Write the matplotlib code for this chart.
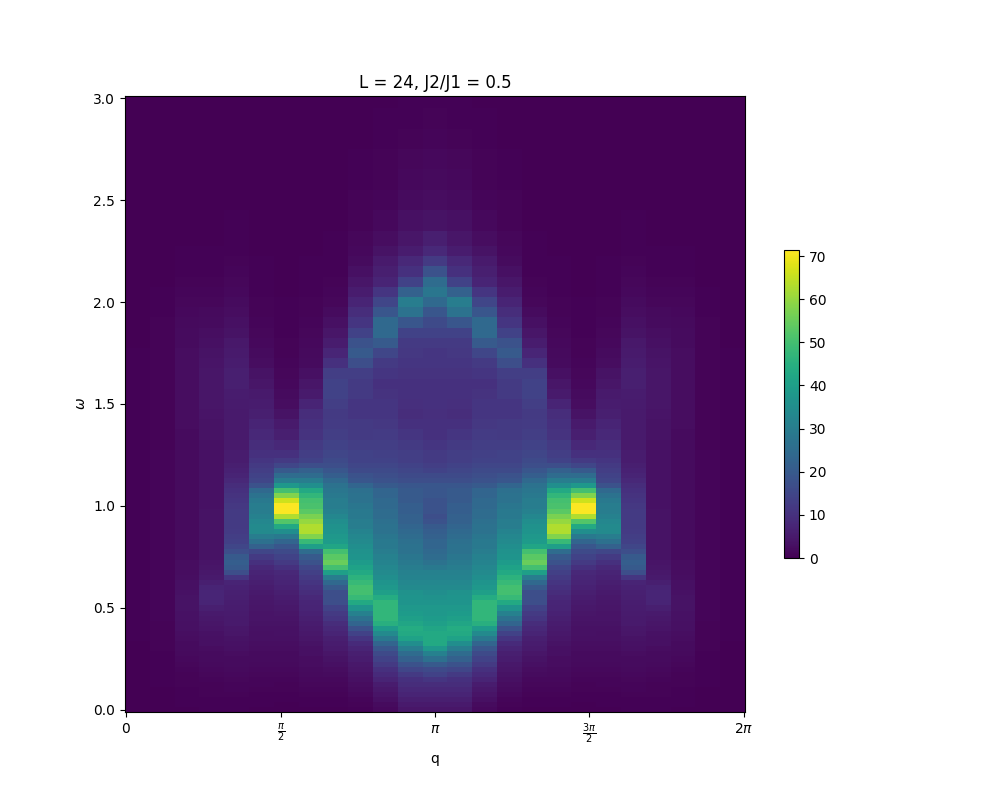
import numpy as np
import matplotlib
matplotlib.use("Agg")
import matplotlib.pyplot as plt

omega = [0,.025,.05,.075,.1,.125,.15,.175,.2,.225,
         .25,.275,.3,.325,.35,.375,.4,.425,.45,.475,
         .5,.525,.55,.575,.6,.625,.65,.675,.7,.725,
         .75,.775,.8,.825,.85,.875,.9,.925,.95,.975,
         1,1.025,1.05,1.075,1.1,1.125,1.15,1.175,1.2,1.225,1.25,
         1.3,1.35,1.4,1.45,1.5,1.55,1.6,1.65,1.7,1.75,
         1.8,1.85,1.9,1.95,2,2.05,2.1,2.15,2.2,
         2.25,2.3,2.4,2.5,2.6,2.7,2.8,2.9,3.0]

col_00 = [.1,.1,.1,.1,.1,.2,.2,.2,.2,.2, .2,.2,.2,.2,.3,.3,.3,.3,.3,.3,
          .3,.3,.3,.3,.3,.3,.3,.3,.3,.3, .3,.3,.3,.3,.3,.3,.3,.3,.3,.3,
          .3,.3,.3,.3,.3,.3,.3,.3,.3,.3,.3, .3,.3,.3,.3,.3,.3,.3,.3,.3,.3,
          .2,.2,.2,.2,.2,.2,.2,.2,.2, .1,.1,.1,.1,.1,.1,.1,.1,.1]
col_01 = [.1,.2,.2,.2,.2,.3,.3,.3,.4,.4, .5,.5,.6,.6,.7,.7,.8,.8,.9,.9,
          1,1,1,1,1,1,1,1,1,1, .9,.9,.9,.9,.9,.9,.9,.9,.9,.9,
          .9,.9,.9,.9,.9,.9,.9,.9,.9,.9,.9, .8,.8,.8,.8,.8,.8,.8,.8,.8,.8,
          .8,.7,.6,.5,.3,.3,.2,.2,.2, .1,.1,.1,.1,.1,.1,.1,.1,.1]
col_02 = [.2,.3,.3,.4,.5,.6,.7,.8,1,1.2, 1.5,1.7,2,2.2,2.5,2.7,3,3,3.2,3.3,
          3.5,3.5,3.5,3.3,3,3,2.7,2.5,2.5,2.3, 2.2,2.2,2.2,2.2,2.2,2.2,2.2,2.2,2.2,2.2,
          2.2,2.2,2.2,2.2,2.2,2.2,2.2,2.2,2.2,2.2,2.2, 2.2,2.2,2.3,2.4,2.5,2.5,2.5,2.5,2.5,2.3,
          2.2,2,1.8,1.6,1.2,1,.7,.5,.4, .3,.2,.1,.1,.1,.1,.1,.1,.1]
col_03 = [.3,.4,.5,.6,.7,.8,1,1.2,1.5,1.7, 2,2.2,2.5,2.8,3,3.3,3.7,4,4.5,5,
          6,7,7.5,7.5,7,6,5,4.5,4,3.8, 3.5,3.5,3.5,3.5,3.5,3.5,3.5,3.5,3.5,3.5,
          3.3,3.3,3.3,3.3,3.3,3.3,3.3,3.3,3.3,3.3,3.3, 3.3,3.4,3.5,3.7,4,4,4,4,3.8,3.5,
          3,2.6,2.2,1.8,1.3,.9,.7,.5,.4, .3,.2,.1,.1,.1,.1,.1,.1,.1]
col_04 = [.3,.4,.5,.7,.9,1.1,1.3,1.6,1.8,2, 2.2,2.5,2.8,3.2,3.6,4,4.4,4.8,5,5.2,
          5.5,5.8,6,6.3,6.5,7,11,17,20,21, 20,17,15,13.5,13,12.5,12,12,12,12,
          11.5,11,10.5,10,9,8,7,6.5,6,5.5,5.5, 5,5,5,5,5.2,5.5,6,6,5.5,5,
          4.5,3.5,3,2.5,2,1.5,1.2,.9,.7, .5,.4,.3,.2,.2,.1,.1,.1,.1]
col_05 = [.2,.3,.4,.5,.7,.9,1.1,1.3,1.5,1.7, 2,2.2,2.5,2.7,3,3,3.3,3.5,3.7,3.8,
          4,4.2,4.5,5,5.5,6,6.5,7,8,10, 12,15,22,26,30,34,34,33,31,30,
          30,29,27,24,18,15,14,13,12,11,10, 9,8,7,6,5.5,5,4,3.5,2.5,2,
          1.5,1.2,1,.8,.6,.5,.4,.3,.3, .2,.2,.1,.1,.1,.1,.1,.1,.1]
col_06 = [.1,.2,.3,.5,.6,.7,1,1.2,1.5,1.7, 2,2.2,2.5,2.7,3,3.2,3.3,3.5,3.8,4,
          4.5,5,5.5,6,6.5,7,7.5,8,10,12, 14,16,19,23,29,35,43,52,63,71,
          71,66,58,50,38,30,25,20,15,12,10, 8,6,5,3.5,2.5,2,1.5,1.2,1,.8,
          .6,.5,.4,.3,.3,.2,.2,.2,.2, .1,.1,.1,.1,.1,.1,.1,.1,.1]
col_07 = [.1,.3,.5,.7,1,1.2,1.5,1.8,2,2.3, 2.5,2.8,3,3.5,4,4.5,5,5.5,6,6.5,
          7,7.5,8,9,10,11,12,13.5,15,18, 20,25,40,48,58,63,63,60,57,53,
          51,50,47,43,35,30,25,22,17,14,13, 12,10.5,10,9,7,5,4,3,2.2,1.8,
          1.5,1.2,1,.8,.7,.5,.4,.3,.3, .2,.2,.1,.1,.1,.1,.1,.1,.1]
col_08 = [.2,.3,.5,.8,1,1.2,1.5,2,2.5,3, 3.5,4,5,5.5,6,7,8,9,11,12,
          14,17,17,17,20,24,30,40,50,55, 53,50,42,39,38,37,36,35,33,31,
          30,30,29,28,27,24,21,19,17,16,15, 14,13,12.5,12,13,14,14,13,10,7.5,
          5.5,4,3,2,1.2,.9,.7,.5,.4, .3,.3,.2,.2,.1,.1,.1,.1,.1]
col_09 = [.3,.6,1,1.5,2,2.5,3,3.5,4,4.5, 5.5,6,7,8.5,11,14,18,23,27,31,
          37,43,48,50,50,48,46,43,41,39, 37,36,35,34,33,32,30,30,29,29,
          28,27,27,26,23,19,18,16,15,14,14, 13,12,12,11,11,12,12,13,17,20,
          18,14,11,9,7,5.5,4,3,2, 1.5,1.2,.8,.6,.4,.3,.2,.2,.1]
col_10 = [1.5,2,3,3.7,4.5,5.5,7,8.5,10,12, 14,16,19,23,29,34,39,45,47,47,
          47,47,44,40,38,37,35,34,33,32, 31,30,29,29,28,27,27,26,25,25,
          24,24,23,23,20,18,17,16,15,14,13.5, 13,12.5,11.5,11,11,10.5,10,11,12,15,
          20,24,24,19,15,11,7,6,5, 3.5,2.5,1.6,1.1,.8,.6,.4,.3,.2]
col_11 = [4,5,6,7,8,9,10,12,15,18, 22,25,30,35,41,43,44,42,40,39,
          38,37,37,36,34,33,32,31,30,29, 28,27,27,26,25,24,23,22,22,21,
          21,20,20,20,19,17,16,15,14,13,13, 12,11,10,9,9.5,10,10,10.5,11,11.5,
          12,14,19,27,30,22,14,10,8, 5.5,4,3,2.2,1.6,1.2,.8,.5,.3]
col_12 = [4,5,6,7,8,9,11,14,16,20, 26,31,38,43,43,43,42,40,39,38,
          38,37,36,35,34,33,32,31,29,27, 25,24,23,23,22,21,20,18,17,18,
          18,18,19,19,19,17,16,14,13,12,12, 11,10,10,9.5,10,10,10,10.5,11,11,
          12,14,16,19,24,28,25,18,12, 8,6,3.5,2.5,1.9,1.4,1,.6,.3]

half = [col_00, col_01, col_02, col_03, col_04, col_05, col_06, col_07, col_08, col_09, col_10, col_11, col_12]
columns = half + half[-2::-1]
intensity = np.array(columns).T

q_edges = np.linspace(-0.013, 2 * np.pi + 0.013, len(columns) + 1)
w = np.array(omega)
w_edges = np.concatenate([[w[0] - 0.01], (w[:-1] + w[1:]) / 2, [w[-1] + 0.01]])

fig, ax = plt.subplots(figsize=(10, 8), dpi=100)
mesh = ax.pcolormesh(q_edges, w_edges, intensity, cmap="viridis", vmin=0, vmax=71.4, shading="flat")
fig.colorbar(mesh, ax=ax, shrink=0.5)
ax.set_xticks([0, np.pi / 2, np.pi, 3 * np.pi / 2, 2 * np.pi])
ax.set_xticklabels(["$0$", r"$\frac{\pi}{2}$", r"$\pi$", r"$\frac{3\pi}{2}$", r"$2\pi$"])
ax.set_xlabel("q")
ax.set_ylabel(r"$\omega$")
ax.set_title("L = 24, J2/J1 = 0.5")
fig.savefig("out.png", dpi=100)
